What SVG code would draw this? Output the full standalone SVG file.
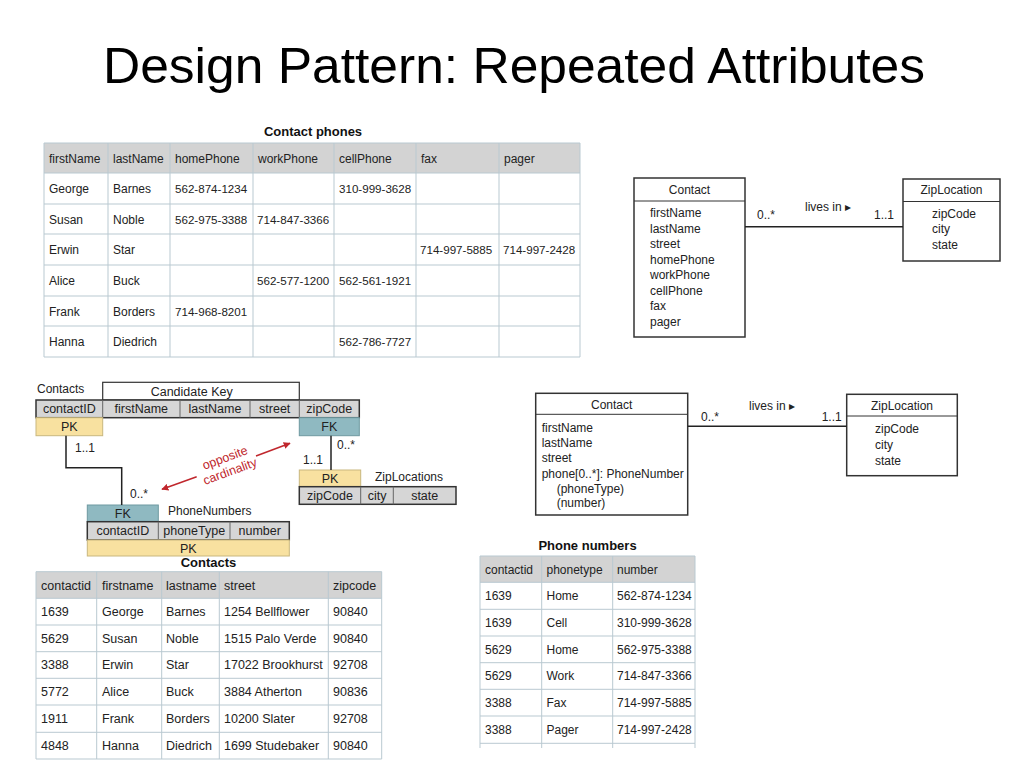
<svg xmlns="http://www.w3.org/2000/svg" width="1024" height="768" viewBox="0 0 1024 768">
<defs>
<style>
text{font-family:"Liberation Sans",Arial,"DejaVu Sans",sans-serif;fill:#222;}
.title{font-size:50px;fill:#000;}
.cap{font-size:13px;font-weight:bold;fill:#111;text-anchor:middle;}
.td{font-size:12px;}
.num{font-size:11.6px;}
.tdb{font-size:12.5px;}
.tdc{font-size:12px;}
.hdr{fill:#d3d3d3;}
.grid{stroke:#b9c9d1;stroke-width:1;fill:none;}
.box{fill:#fff;stroke:#333;stroke-width:1.5;}
.div{stroke:#333;stroke-width:1;}
.u{font-size:12px;}
.uc{font-size:12px;text-anchor:middle;}
.cell{font-size:12.5px;text-anchor:middle;}
.colrow{fill:#d6d6d6;stroke:#333;stroke-width:1.5;}
.sep{stroke:#666;stroke-width:1;}
.pk{fill:#f8e1a0;stroke:#c9b77e;stroke-width:1;}
.fk{fill:#8fb9c1;stroke:#6f99a1;stroke-width:1;}
.line{stroke:#222;stroke-width:1.5;fill:none;}
.red{stroke:#c0272d;stroke-width:1.5;fill:none;}
.redt{font-size:12.5px;fill:#c0272d;text-anchor:middle;}
</style>
<marker id="ah" viewBox="0 0 10 10" refX="9" refY="5" markerWidth="7" markerHeight="7" orient="auto-start-reverse" markerUnits="userSpaceOnUse">
<path d="M0,0 L10,5 L0,10 z" fill="#c0272d"/>
</marker>
</defs>
<rect width="1024" height="768" fill="#fff"/>
<text class="title" x="103" y="83" textLength="822" lengthAdjust="spacingAndGlyphs">Design Pattern: Repeated Attributes</text>

<!-- Contact phones table -->
<g id="contact-phones-table">
<text class="cap" x="313" y="136">Contact phones</text>
<rect class="hdr" x="44" y="143" width="536" height="30"/>
<path class="grid" d="M44,143H580V357H44Z M44,173H580 M44,204H580 M44,234H580 M44,265H580 M44,296H580 M44,326H580 M108,143V357 M170,143V357 M253,143V357 M334,143V357 M416,143V357 M499,143V357"/>
<g class="td">
<text x="49" y="162.5">firstName</text><text x="113" y="162.5">lastName</text><text x="175" y="162.5">homePhone</text><text x="258" y="162.5">workPhone</text><text x="339" y="162.5">cellPhone</text><text x="421" y="162.5">fax</text><text x="504" y="162.5">pager</text>
<text x="49" y="193">George</text><text x="113" y="193">Barnes</text>
<text x="49" y="223.5">Susan</text><text x="113" y="223.5">Noble</text>
<text x="49" y="254">Erwin</text><text x="113" y="254">Star</text>
<text x="49" y="285">Alice</text><text x="113" y="285">Buck</text>
<text x="49" y="315.5">Frank</text><text x="113" y="315.5">Borders</text>
<text x="49" y="346">Hanna</text><text x="113" y="346">Diedrich</text>
</g>
<g class="num">
<text x="175" y="193">562-874-1234</text><text x="339" y="193">310-999-3628</text>
<text x="175" y="223.5">562-975-3388</text><text x="257" y="223.5">714-847-3366</text>
<text x="420" y="254">714-997-5885</text><text x="503" y="254">714-997-2428</text>
<text x="257" y="285">562-577-1200</text><text x="339" y="285">562-561-1921</text>
<text x="175" y="315.5">714-968-8201</text>
<text x="339" y="346">562-786-7727</text>
</g>
</g>

<!-- UML top right -->
<g id="uml1-contact">
<rect class="box" x="634" y="178" width="111" height="159"/>
<line class="div" x1="634" y1="201" x2="745" y2="201"/>
<text class="uc" x="689.5" y="194">Contact</text>
<text class="u" x="650" y="217">firstName</text>
<text class="u" x="650" y="232.5">lastName</text>
<text class="u" x="650" y="248">street</text>
<text class="u" x="650" y="263.5">homePhone</text>
<text class="u" x="650" y="279">workPhone</text>
<text class="u" x="650" y="294.5">cellPhone</text>
<text class="u" x="650" y="310">fax</text>
<text class="u" x="650" y="325.5">pager</text>
</g>
<g id="uml1-ziplocation">
<rect class="box" x="903" y="179" width="97" height="82"/>
<line class="div" x1="903" y1="201.5" x2="1000" y2="201.5"/>
<text class="uc" x="951.5" y="194">ZipLocation</text>
<text class="u" x="932" y="217.5">zipCode</text>
<text class="u" x="932" y="233">city</text>
<text class="u" x="932" y="248.5">state</text>
</g>

<!-- UML middle right -->
<g id="uml2-contact">
<rect class="box" x="535.7" y="393.3" width="152" height="121.7"/>
<line class="div" x1="535.7" y1="414.3" x2="687.7" y2="414.3"/>
<text class="uc" x="611.7" y="408.5">Contact</text>
<text class="u" x="541.7" y="431.5">firstName</text>
<text class="u" x="541.7" y="446.5">lastName</text>
<text class="u" x="541.7" y="462">street</text>
<text class="u" x="541.7" y="477.5">phone[0..*]: PhoneNumber</text>
<text class="u" x="556.7" y="492.5">(phoneType)</text>
<text class="u" x="556.7" y="507">(number)</text>
</g>
<g id="uml2-ziplocation">
<rect class="box" x="846.7" y="394.3" width="110.6" height="81.4"/>
<line class="div" x1="846.7" y1="416" x2="957.3" y2="416"/>
<text class="uc" x="902" y="409.5">ZipLocation</text>
<text class="u" x="875" y="433">zipCode</text>
<text class="u" x="875" y="449">city</text>
<text class="u" x="875" y="464.5">state</text>
</g>

<!-- Schema: Contacts -->
<g id="schema-contacts">
<text class="u" x="37" y="393">Contacts</text>
<rect x="102.7" y="382.3" width="196.6" height="17.7" fill="#fff" stroke="#333" stroke-width="1.2"/>
<text class="cell" x="191.7" y="396">Candidate Key</text>
<rect class="colrow" x="36" y="400" width="323.3" height="17.7"/>
<path class="sep" d="M102.7,400V417.7 M180,400V417.7 M250,400V417.7 M299.3,400V417.7"/>
<text class="cell" x="69.3" y="413.3">contactID</text>
<text class="cell" x="141.3" y="413.3">firstName</text>
<text class="cell" x="215" y="413.3">lastName</text>
<text class="cell" x="274.7" y="413.3">street</text>
<text class="cell" x="329.3" y="413.3">zipCode</text>
<rect class="pk" x="36" y="417.7" width="66.7" height="18"/>
<text class="cell" x="69.3" y="431">PK</text>
<rect class="fk" x="299.3" y="417.7" width="60" height="18"/>
<text class="cell" x="329.3" y="431">FK</text>
</g>
<g id="schema-phonenumbers">
<rect class="fk" x="87.3" y="505" width="71" height="16.7"/>
<text class="cell" x="122.8" y="517.8">FK</text>
<text class="u" x="168" y="514.5">PhoneNumbers</text>
<rect class="colrow" x="87.3" y="521.7" width="202" height="18.3"/>
<path class="sep" d="M158.3,521.7V540 M230,521.7V540"/>
<text class="cell" x="122.8" y="535.3">contactID</text>
<text class="cell" x="194.2" y="535.3">phoneType</text>
<text class="cell" x="259.7" y="535.3">number</text>
<rect class="pk" x="87.3" y="540" width="202" height="16"/>
<text class="cell" x="188.3" y="553">PK</text>
</g>
<g id="schema-ziplocations">
<rect class="pk" x="299.3" y="470" width="61.4" height="16.7"/>
<text class="cell" x="330" y="482.8">PK</text>
<text class="u" x="375" y="481">ZipLocations</text>
<rect class="colrow" x="299.3" y="486.7" width="156.7" height="17.6"/>
<path class="sep" d="M360.7,486.7V504.3 M393.3,486.7V504.3"/>
<text class="cell" x="330" y="499.8">zipCode</text>
<text class="cell" x="377" y="499.8">city</text>
<text class="cell" x="424.7" y="499.8">state</text>
</g>

<!-- Contacts data table -->
<g id="contacts-table">
<text class="cap" x="208.5" y="567">Contacts</text>
<rect class="hdr" x="36" y="571.7" width="345.7" height="26.6"/>
<path class="grid" d="M36,571.7H381.7V759H36Z M36,598.3H381.7 M36,625H381.7 M36,651.7H381.7 M36,678.3H381.7 M36,705H381.7 M36,732.3H381.7 M96.7,571.7V759 M161.7,571.7V759 M219.3,571.7V759 M328.3,571.7V759"/>
<g class="tdb">
<text x="41" y="589.5">contactid</text><text x="102" y="589.5">firstname</text><text x="166" y="589.5">lastname</text><text x="224" y="589.5">street</text><text x="333" y="589.5">zipcode</text>
<text x="41" y="616">1639</text><text x="102" y="616">George</text><text x="166" y="616">Barnes</text><text x="224" y="616">1254 Bellflower</text><text x="333" y="616">90840</text>
<text x="41" y="642.7">5629</text><text x="102" y="642.7">Susan</text><text x="166" y="642.7">Noble</text><text x="224" y="642.7">1515 Palo Verde</text><text x="333" y="642.7">90840</text>
<text x="41" y="669.3">3388</text><text x="102" y="669.3">Erwin</text><text x="166" y="669.3">Star</text><text x="224" y="669.3">17022 Brookhurst</text><text x="333" y="669.3">92708</text>
<text x="41" y="696">5772</text><text x="102" y="696">Alice</text><text x="166" y="696">Buck</text><text x="224" y="696">3884 Atherton</text><text x="333" y="696">90836</text>
<text x="41" y="723">1911</text><text x="102" y="723">Frank</text><text x="166" y="723">Borders</text><text x="224" y="723">10200 Slater</text><text x="333" y="723">92708</text>
<text x="41" y="750">4848</text><text x="102" y="750">Hanna</text><text x="166" y="750">Diedrich</text><text x="224" y="750">1699 Studebaker</text><text x="333" y="750">90840</text>
</g>
</g>

<!-- Phone numbers data table -->
<g id="phone-numbers-table">
<text class="cap" x="587.5" y="550">Phone numbers</text>
<rect class="hdr" x="480" y="556" width="215" height="26.3"/>
<path class="grid" d="M480,556H695V743.3 M480,556V748 M480,582.3H695 M480,609.3H695 M480,636H695 M480,662.7H695 M480,689.3H695 M480,716H695 M480,743.3H695 M541.7,556V748 M612.7,556V748 M695,743.3V748"/>
<g class="tdc">
<text x="485" y="573.5">contactid</text><text x="546.5" y="573.5">phonetype</text><text x="617" y="573.5">number</text>
<text x="485" y="600">1639</text><text x="546.5" y="600">Home</text><text x="617" y="600">562-874-1234</text>
<text x="485" y="627">1639</text><text x="546.5" y="627">Cell</text><text x="617" y="627">310-999-3628</text>
<text x="485" y="653.5">5629</text><text x="546.5" y="653.5">Home</text><text x="617" y="653.5">562-975-3388</text>
<text x="485" y="680">5629</text><text x="546.5" y="680">Work</text><text x="617" y="680">714-847-3366</text>
<text x="485" y="707">3388</text><text x="546.5" y="707">Fax</text><text x="617" y="707">714-997-5885</text>
<text x="485" y="734">3388</text><text x="546.5" y="734">Pager</text><text x="617" y="734">714-997-2428</text>
</g>
</g>

<!-- Connectors -->
<g id="connectors">
<line class="line" x1="745" y1="226.7" x2="903" y2="226.7"/>
<text class="u" x="757" y="219">0..*</text>
<text class="u" x="805" y="211">lives in ▸</text>
<text class="u" x="874" y="219">1..1</text>

<line class="line" x1="687.7" y1="426.3" x2="846.7" y2="426.3"/>
<text class="u" x="701" y="421">0..*</text>
<text class="u" x="749" y="410">lives in ▸</text>
<text class="u" x="821.7" y="421">1..1</text>

<path class="line" d="M66,435.7V467.7H121.7V505"/>
<text class="u" x="75" y="452">1..1</text>
<text class="u" x="130" y="497.5">0..*</text>
<path class="line" d="M331,435.7V470"/>
<text class="u" x="337" y="449">0..*</text>
<text class="u" x="303" y="464">1..1</text>

<line class="red" x1="196.7" y1="476.7" x2="162" y2="489.3" marker-end="url(#ah)"/>
<line class="red" x1="256" y1="456" x2="290" y2="443.3" marker-end="url(#ah)"/>
<text class="redt" transform="translate(225,458) rotate(-20)" x="0" y="4">opposite</text>
<text class="redt" transform="translate(230,471.5) rotate(-20)" x="0" y="4">cardinality</text>
</g>
</svg>
